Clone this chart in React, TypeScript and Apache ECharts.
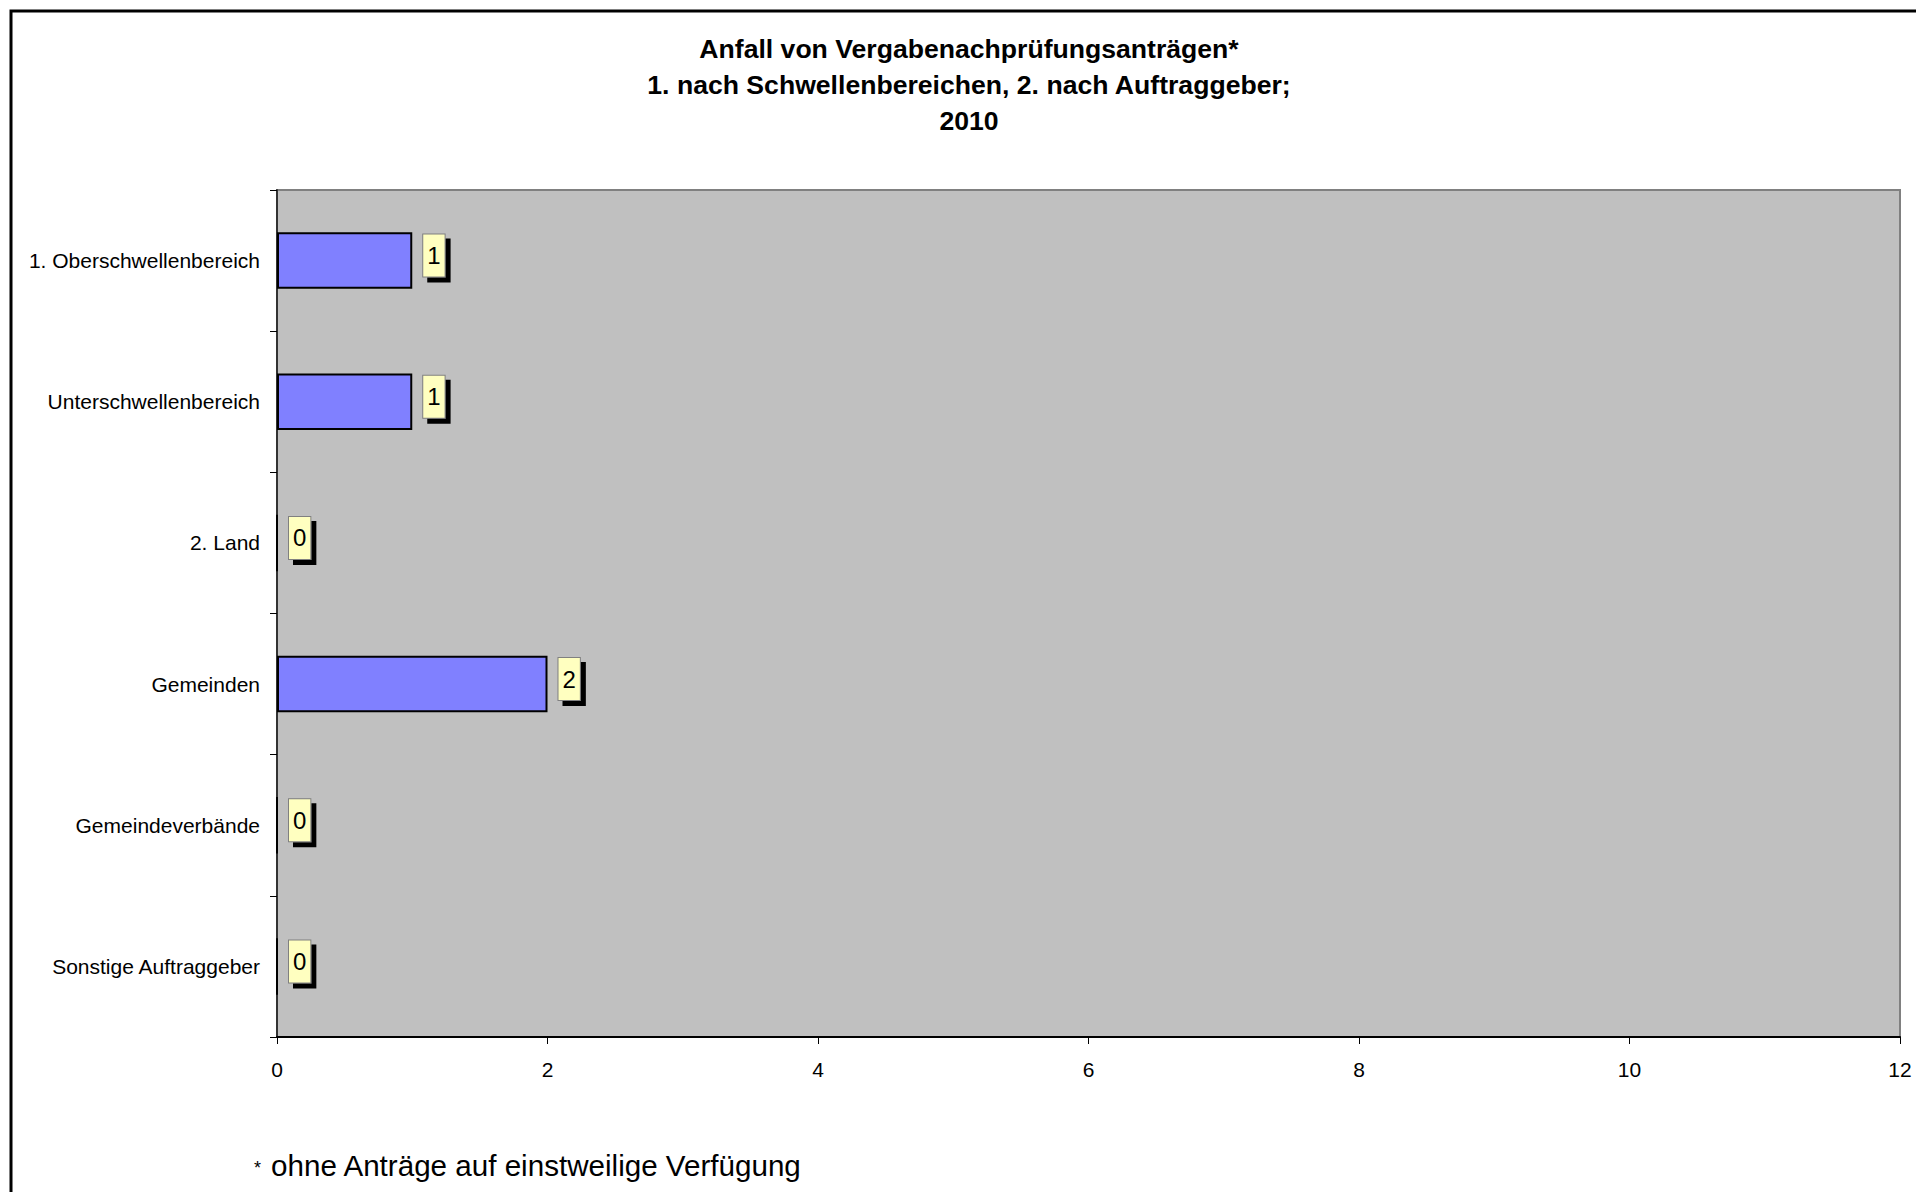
import React, { useEffect, useRef } from "react";
import * as echarts from "echarts";

const categories = [
  "1. Oberschwellenbereich",
  "Unterschwellenbereich",
  "2. Land",
  "Gemeinden",
  "Gemeindeverbände",
  "Sonstige Auftraggeber",
];
const values = [1, 1, 0, 2, 0, 0];
const xMin = 0;
const xMax = 12;
const xInterval = 2;
const titleLines = [
  "Anfall von Vergabenachprüfungsanträgen*",
  "1. nach Schwellenbereichen, 2. nach Auftraggeber;",
  "2010",
];
const footnoteMark = "*";
const footnoteText = "ohne Anträge auf einstweilige Verfügung";

const FONT = "'Liberation Sans', Arial, Helvetica, sans-serif";

export default function App() {
  const ref = useRef<HTMLDivElement>(null);

  useEffect(() => {
    if (!ref.current) return;
    const chart = echarts.init(ref.current, null, { renderer: "svg" });
    const option: any = {
      animation: false,
      backgroundColor: "#ffffff",
      textStyle: { fontFamily: FONT },
      title: {
        text: titleLines.join("\n"),
        left: 964,
        top: 26,
        textAlign: "center",
        textStyle: {
          fontFamily: FONT,
          fontSize: 26.6,
          fontWeight: "bold",
          color: "#000",
          lineHeight: 36,
        },
      },
      grid: {
        left: 277,
        top: 190,
        right: 16,
        bottom: 155,
        show: true,
        backgroundColor: "#C0C0C0",
        borderColor: "#808080",
        borderWidth: 2,
      },
      xAxis: {
        type: "value",
        min: xMin,
        max: xMax,
        interval: xInterval,
        splitLine: { show: false },
        axisLine: { show: true, lineStyle: { color: "#000", width: 2 } },
        axisTick: { show: true, length: 7, lineStyle: { color: "#000", width: 1 } },
        axisLabel: { color: "#000", fontSize: 21, fontFamily: FONT, margin: 22 },
      },
      yAxis: {
        type: "category",
        data: categories,
        inverse: true,
        axisLine: { show: true, lineStyle: { color: "#333", width: 2 } },
        axisTick: { show: true, length: 7, lineStyle: { color: "#000", width: 1 } },
        axisLabel: { color: "#000", fontSize: 21, fontFamily: FONT, margin: 17 },
      },
      series: [
        {
          type: "bar",
          data: values,
          barWidth: "40%",
          itemStyle: { color: "#8080FF", borderColor: "#000", borderWidth: 2 },
          label: {
            show: true,
            position: "right",
            distance: 11,
            offset: [0, -5],
            color: "#000",
            fontSize: 24,
            fontFamily: FONT,
            lineHeight: 28,
            backgroundColor: "#FFFFC0",
            borderColor: "#808080",
            borderWidth: 1,
            padding: [7, 4, 7, 4],
            shadowColor: "#000",
            shadowOffsetX: 5,
            shadowOffsetY: 5,
            shadowBlur: 0,
          },
        },
      ],
      graphic: [
        {
          type: "rect",
          shape: { x: 11, y: 11, width: 2100, height: 1400 },
          style: { fill: "none", stroke: "#000", lineWidth: 3 },
          silent: true,
          z: 100,
        },
        {
          type: "text",
          x: 254,
          y: 1168,
          style: {
            text: footnoteMark,
            fontSize: 18,
            fontFamily: FONT,
            fill: "#000",
            verticalAlign: "middle",
          },
        },
        {
          type: "text",
          x: 271,
          y: 1165,
          style: {
            text: footnoteText,
            fontSize: 29.6,
            fontFamily: FONT,
            fill: "#000",
            verticalAlign: "middle",
          },
        },
      ],
    };
    chart.setOption(option);
    return () => chart.dispose();
  }, []);

  return (
    <div
      ref={ref}
      style={{ position: "fixed", left: 0, top: 0, width: 1916, height: 1192, background: "#fff" }}
    />
  );
}
